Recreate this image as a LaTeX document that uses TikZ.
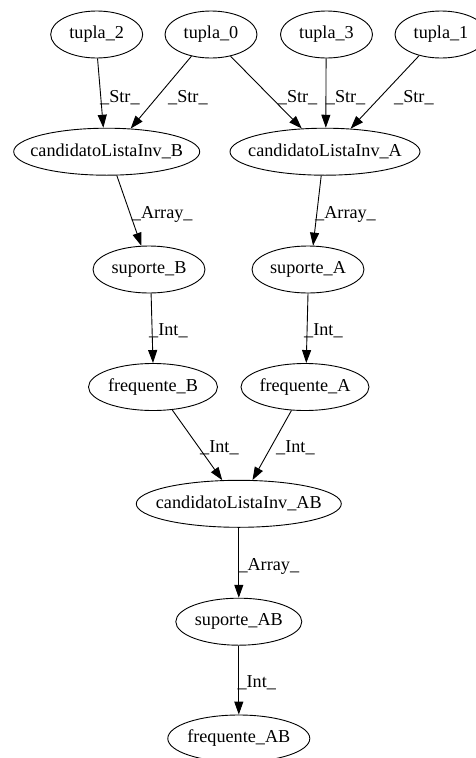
\documentclass[tikz,border=0pt]{standalone}
\usepackage{fontspec}
\setmainfont{Liberation Serif}
\usetikzlibrary{shapes.geometric,arrows.meta}

% zero-width text box, so that each ellipse takes exactly its minimum size
\newcommand{\nodetext}[1]{\makebox[0pt]{#1}}

\tikzset{
  gv/.style={draw, ellipse, line width=0.9pt, inner sep=0pt, minimum height=47pt,
             font=\fontsize{18.2}{20}\selectfont},
  edge/.style={line width=0.9pt, -{Triangle[length=13pt,width=9pt]}},
  elabel/.style={anchor=base west, inner sep=0pt, font=\fontsize{18.2}{20}\selectfont}
}

\begin{document}
\begin{tikzpicture}[x=1pt, y=-1pt]
\useasboundingbox (0,0) rectangle (475,758);

% source tuples
\node[gv, minimum width=92pt] (t2) at (96.7,34.5) {\nodetext{tupla\_2}};
\node[gv, minimum width=92pt] (t0) at (211,34.5) {\nodetext{tupla\_0}};
\node[gv, minimum width=92pt] (t3) at (326.5,34.5) {\nodetext{tupla\_3}};
\node[gv, minimum width=92pt] (t1) at (441,34.5) {\nodetext{tupla\_1}};

% candidate inverted lists
\node[gv, minimum width=186pt] (cB) at (106.7,151.7) {\nodetext{candidatoListaInv\_B}};
\node[gv, minimum width=190pt] (cA) at (325,151.7) {\nodetext{candidatoListaInv\_A}};

% supports
\node[gv, minimum width=112pt] (sB) at (149,269.5) {\nodetext{suporte\_B}};
\node[gv, minimum width=112pt] (sA) at (308,269.5) {\nodetext{suporte\_A}};

% frequent sets
\node[gv, minimum width=129pt] (fB) at (153,387) {\nodetext{frequente\_B}};
\node[gv, minimum width=128pt] (fA) at (305,387) {\nodetext{frequente\_A}};

% combined branch
\node[gv, minimum width=205pt] (cAB) at (238.8,503.8) {\nodetext{candidatoListaInv\_AB}};
\node[gv, minimum width=126pt] (sAB) at (238.8,621.7) {\nodetext{suporte\_AB}};
\node[gv, minimum width=142pt] (fAB) at (238.8,738.5) {\nodetext{frequente\_AB}};

% connectors
\draw[edge] (t2.-88.5) -- (cB.98.2);
\draw[edge] (t0.-132.1) -- (cB.44.3);
\draw[edge] (t0.-48.4) -- (cA.135.6);
\draw[edge] (t3.-91.9) -- (cA.88.3);
\draw[edge] (t1.-136.3) -- (cA.42.2);
\draw[edge] (cB.-67.25) -- (sB.108.3);
\draw[edge] (cA.-99.4) -- (sA.78.65);
\draw[edge] (sB.-85.1) -- (fB.90.7);
\draw[edge] (sA.-90.7) -- (fA.87.6);
\draw[edge] (fB.-50.26) -- (cAB.125.9);
\draw[edge] (fA.-120.05) -- (cAB.60.47);
\draw[edge] (cAB) -- (sAB);
\draw[edge] (sAB) -- (fAB);

% connector labels
\node[elabel] (l1) at (100,102.5) {\_Str\_};
\node[elabel] (l2) at (168,102.5) {\_Str\_};
\node[elabel] (l3) at (277.7,102.5) {\_Str\_};
\node[elabel] (l4) at (325.7,102.5) {\_Str\_};
\node[elabel] (l5) at (394,102.5) {\_Str\_};
\node[elabel] (l6) at (131.7,218.5) {\_Array\_};
\node[elabel] (l7) at (315,218.5) {\_Array\_};
\node[elabel] (l8) at (149,335.5) {\_Int\_};
\node[elabel] (l9) at (304,335.5) {\_Int\_};
\node[elabel] (l10) at (200,452.2) {\_Int\_};
\node[elabel] (l11) at (276,452.2) {\_Int\_};
\node[elabel] (l12) at (238.3,570.5) {\_Array\_};
\node[elabel] (l13) at (237.3,687.2) {\_Int\_};
\end{tikzpicture}
\end{document}
